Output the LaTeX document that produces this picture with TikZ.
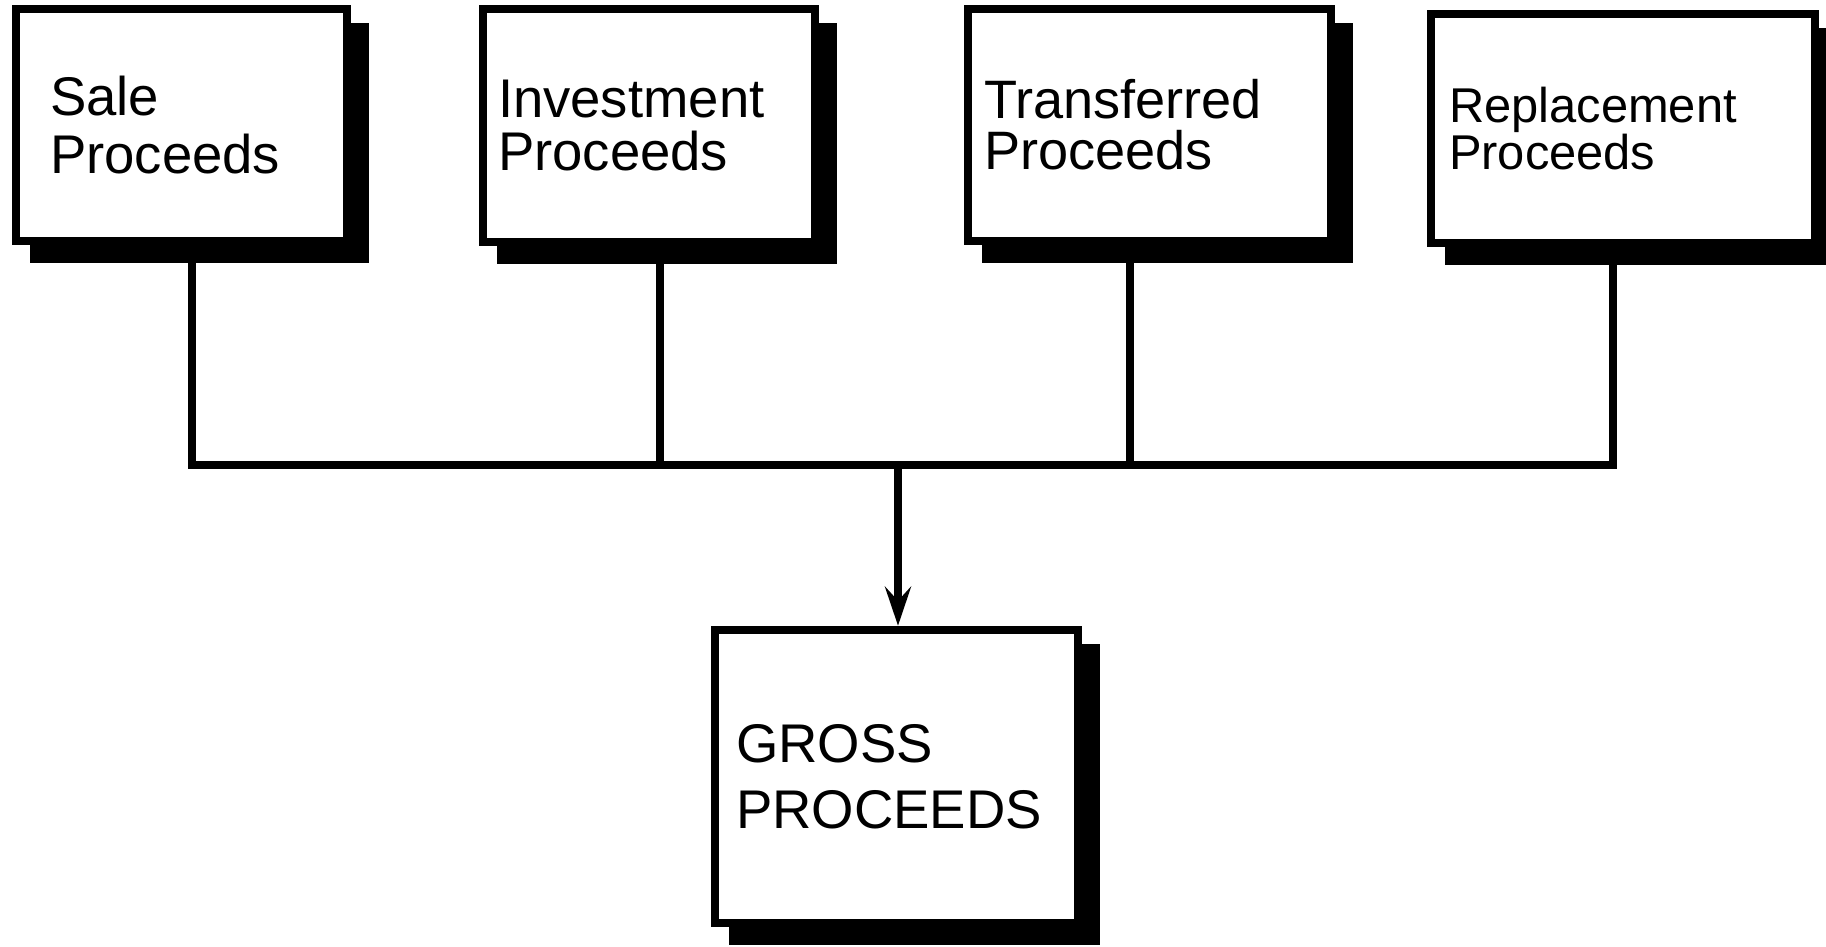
\documentclass[tikz,border=0pt]{standalone}
\usepackage{fontspec}
\setmainfont{Liberation Sans}
\usetikzlibrary{arrows.meta, shadows}

\begin{document}
\begin{tikzpicture}[
  x=0.1mm, y=-0.1mm,
  srcbox/.style={draw, fill=white, line width=0.85mm, align=left,
                 inner ysep=0pt,
                 drop shadow={shadow xshift=1.8mm, shadow yshift=-1.8mm,
                              opacity=1, fill=black, draw=black,
                              line width=0.85mm}},
  wire/.style={line width=0.8mm, line join=miter},
  arr/.style={-{Stealth[length=3.9mm, width=2.6mm, inset=1.4mm]},
              line width=0.85mm}
]
\useasboundingbox (0,0) rectangle (1826,946);

%% ---------- top row: where the proceeds come from ----------
\node[srcbox, minimum width=33.1mm, minimum height=23.2mm, inner xsep=3.4mm,
      text width=26.3mm, font=\fontsize{15.5pt}{16.4pt}\selectfont]
  (sale) at (181.5,125) {Sale\\Proceeds};
\node[srcbox, minimum width=33.2mm, minimum height=23.3mm, inner xsep=1.5mm,
      text width=30.2mm, font=\fontsize{15.5pt}{15.1pt}\selectfont]
  (invest) at (649,125.5) {Investment\\Proceeds};
\node[srcbox, minimum width=36.3mm, minimum height=23.2mm, inner xsep=1.6mm,
      text width=33.1mm, font=\fontsize{15.4pt}{14.5pt}\selectfont]
  (transf) at (1149.5,125) {Transferred\\Proceeds};
\node[srcbox, minimum width=38.4mm, minimum height=22.9mm, inner xsep=1.8mm,
      text width=34.8mm, font=\fontsize{13.9pt}{13.4pt}\selectfont]
  (repl) at (1623,128.5) {Replacement\\Proceeds};

%% ---------- bottom: total ----------
\node[srcbox, minimum width=36.3mm, minimum height=29.3mm, inner xsep=2.1mm,
      text width=32.1mm, font=\fontsize{15.5pt}{18.8pt}\selectfont]
  (gross) at (896.5,776.5) {GROSS\\PROCEEDS};

%% ---------- collecting bus ----------
\coordinate (j1) at (192,465);
\coordinate (j2) at (660,465);
\coordinate (j3) at (1130,465);
\coordinate (j4) at (1613,465);
\coordinate (jm) at (898,465);

\draw[wire] (j1 |- sale.south) -- (j1) -- (j4) -- (j4 |- repl.south);
\draw[wire] (j2 |- invest.south) -- (j2);
\draw[wire] (j3 |- transf.south) -- (j3);
\draw[arr] (jm) -- (jm |- gross.north);
\end{tikzpicture}
\end{document}
